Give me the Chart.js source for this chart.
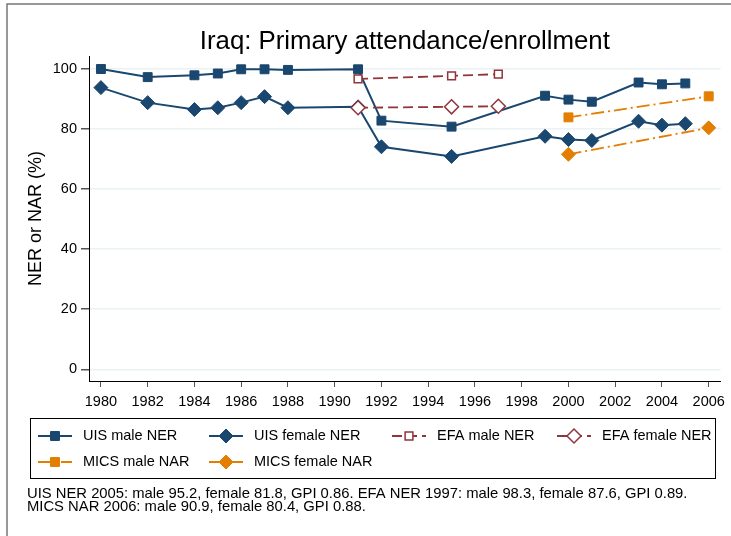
<!DOCTYPE html>
<html>
<head>
<meta charset="utf-8">
<script src="https://cdn.jsdelivr.net/npm/chart.js@4.4.0/dist/chart.umd.min.js"></script>
<style>
  html, body { margin: 0; padding: 0; background: #fff; }
</style>
</head>
<body>
<canvas id="grafica" width="731" height="536"></canvas>
<script>
"use strict"

// values
const uisYears = [1980, 1982, 1984, 1985, 1986, 1987, 1988, 1991, 1992, 1995, 1999, 2000, 2001, 2003, 2004, 2005];
const uisMale = [100, 97.3, 97.9, 98.5, 99.9, 99.9, 99.7, 99.9, 82.8, 80.8, 91.1, 89.8, 89.1, 95.5, 94.9, 95.2];
const uisFemale = [93.8, 88.8, 86.5, 87.1, 88.8, 90.8, 87.1, 87.4, 74.1, 70.9, 77.6, 76.5, 76.2, 82.6, 81.3, 81.8];
const efaYears = [1991, 1995, 1997];
const efaMale = [96.7, 97.7, 98.3];
const efaFemale = [87.1, 87.4, 87.6];
const micsYears = [2000, 2006];
const micsMale = [83.9, 90.9];
const micsFemale = [71.6, 80.4];

const xTicks = [1980, 1982, 1984, 1986, 1988, 1990, 1992, 1994, 1996, 1998, 2000, 2002, 2004, 2006];
const yTicks = [0, 20, 40, 60, 80, 100];

const titleText = "Iraq: Primary attendance/enrollment";
const yTitle = "NER or NAR (%)";
const noteLines = [
    "UIS NER 2005: male 95.2, female 81.8, GPI 0.86. EFA NER 1997: male 98.3, female 87.6, GPI 0.89.",
    "MICS NAR 2006: male 90.9, female 80.4, GPI 0.88."
];

const navy = "#1a476f";
const maroon = "#90353b";
const orange = "#e37e00";
const fuente = "'Liberation Sans', Arial, sans-serif";

function puntos(anios, valores) {
    return anios.map((a, i) => ({ x: a, y: valores[i] }));
}

let datasets = [
    { label: "UIS male NER", data: puntos(uisYears, uisMale), borderColor: navy, backgroundColor: navy,
      pointStyle: "rect", pointRadius: 6.3, borderWidth: 2, pointBorderWidth: 1, order: 5 },
    { label: "UIS female NER", data: puntos(uisYears, uisFemale), borderColor: navy, backgroundColor: navy,
      pointStyle: "rectRot", pointRadius: 7, borderWidth: 2, pointBorderWidth: 1, order: 4 },
    { label: "EFA male NER", data: puntos(efaYears, efaMale), borderColor: maroon, backgroundColor: "#fff",
      pointStyle: "rect", pointRadius: 5.5, borderWidth: 1.8, pointBorderWidth: 1.5, borderDash: [10, 5], order: 3 },
    { label: "EFA female NER", data: puntos(efaYears, efaFemale), borderColor: maroon, backgroundColor: "#fff",
      pointStyle: "rectRot", pointRadius: 7, borderWidth: 1.8, pointBorderWidth: 1.5, borderDash: [10, 5], order: 2 },
    { label: "MICS male NAR", data: puntos(micsYears, micsMale), borderColor: orange, backgroundColor: orange,
      pointStyle: "rect", pointRadius: 6.3, borderWidth: 1.8, pointBorderWidth: 1, borderDash: [13, 4, 2, 4], order: 1 },
    { label: "MICS female NAR", data: puntos(micsYears, micsFemale), borderColor: orange, backgroundColor: orange,
      pointStyle: "rectRot", pointRadius: 7, borderWidth: 1.8, pointBorderWidth: 1, borderDash: [13, 4, 2, 4], order: 0 }
];

datasets.forEach(d => {
    d.pointBackgroundColor = d.backgroundColor;
    d.pointBorderColor = d.borderColor;
    d.fill = false;
    d.tension = 0;
});

// legend layout: 4 columns, 2 rows
const legendCols = [38, 209, 392, 557];
const legendRows = [436, 462];

const extras = {
    id: "extras",
    afterDraw(chart) {
        const ctx = chart.ctx;
        ctx.save();

        // outer frame (cut by the picture edge)
        ctx.strokeStyle = "#777";
        ctx.lineWidth = 1.5;
        ctx.beginPath();
        ctx.moveTo(7, 540);
        ctx.lineTo(7, 4);
        ctx.lineTo(740, 4);
        ctx.stroke();

        // title
        ctx.fillStyle = "#000";
        ctx.font = "25.8px " + fuente;
        ctx.textAlign = "center";
        ctx.textBaseline = "alphabetic";
        let area = chart.chartArea;
        ctx.fillText(titleText, (area.left + area.right) / 2, 49);

        // y axis title
        ctx.save();
        ctx.translate(36, (area.top + area.bottom) / 2);
        ctx.rotate(-Math.PI / 2);
        ctx.font = "18px " + fuente;
        ctx.textBaseline = "middle";
        ctx.fillText(yTitle, 0, 0);
        ctx.restore();

        // legend box
        ctx.strokeStyle = "#000";
        ctx.lineWidth = 1;
        ctx.strokeRect(30.5, 418.5, 685, 60);

        ctx.font = "14.5px " + fuente;
        ctx.textAlign = "left";
        ctx.textBaseline = "middle";
        chart.data.datasets.forEach((d, i) => {
            let x0 = legendCols[i % 4];
            let y = legendRows[Math.floor(i / 4)];
            ctx.strokeStyle = d.borderColor;
            ctx.lineWidth = d.borderWidth;
            ctx.setLineDash(d.borderDash || []);
            ctx.beginPath();
            ctx.moveTo(x0, y);
            ctx.lineTo(x0 + 34, y);
            ctx.stroke();
            ctx.setLineDash([]);
            ctx.fillStyle = d.backgroundColor;
            ctx.lineWidth = d.pointBorderWidth;
            Chart.helpers.drawPoint(ctx, { pointStyle: d.pointStyle, radius: d.pointRadius, borderWidth: d.pointBorderWidth, rotation: 0 }, x0 + 17, y);
            ctx.fillStyle = "#000";
            ctx.fillText(d.label, x0 + 45, y);
        });

        // note
        ctx.font = "14.8px " + fuente;
        ctx.fillText(noteLines[0], 27, 494);
        ctx.fillText(noteLines[1], 27, 507);

        ctx.restore();
    }
};

new Chart(document.getElementById("grafica").getContext("2d"), {
    type: "line",
    data: { datasets: datasets },
    options: {
        responsive: false,
        animation: false,
        layout: { padding: { left: 0, top: 56, right: 9, bottom: 0 }, autoPadding: false },
        plugins: {
            legend: { display: false },
            title: { display: false },
            tooltip: { enabled: false }
        },
        scales: {
            x: {
                type: "linear",
                min: 1979.49,
                max: 2006.51,
                border: { color: "#000", width: 1 },
                grid: { drawOnChartArea: false, tickLength: 6, tickColor: "#555", lineWidth: 1 },
                ticks: {
                    color: "#000", font: { family: fuente, size: 14.5 }, padding: 6,
                    maxRotation: 0, autoSkip: false, callback: v => String(v)
                },
                afterBuildTicks: s => { s.ticks = xTicks.map(v => ({ value: v })); },
                afterFit: s => { s.height = 155; }
            },
            y: {
                min: -3.9,
                max: 104.33,
                border: { color: "#000", width: 1 },
                grid: { color: "#eaf2f3", lineWidth: 1.5, tickLength: 8, tickColor: "#555" },
                ticks: {
                    color: "#000", font: { family: fuente, size: 14.5 }, padding: 4,
                    callback: v => String(v)
                },
                afterBuildTicks: s => { s.ticks = yTicks.map(v => ({ value: v })); },
                afterFit: s => { s.width = 89; }
            }
        }
    },
    plugins: [extras]
});
</script>
</body>
</html>
